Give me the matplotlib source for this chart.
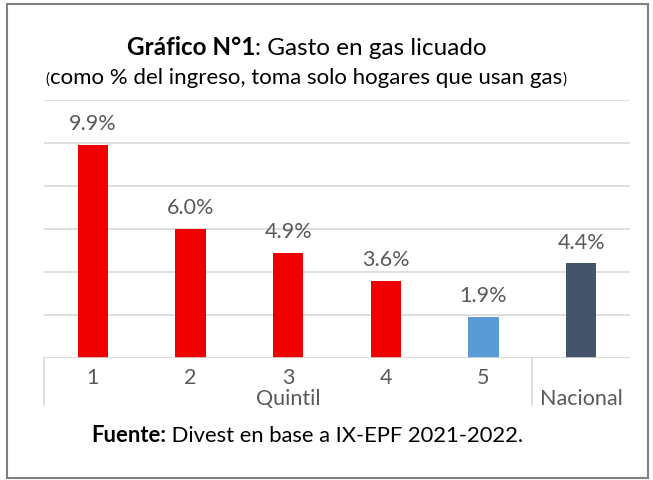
import matplotlib
matplotlib.use("Agg")
import matplotlib.pyplot as plt
from matplotlib.patches import Rectangle
from matplotlib.lines import Line2D
from matplotlib.transforms import blended_transform_factory

categories = ["1", "2", "3", "4", "5", "Nacional"]
values = [9.9, 6.0, 4.9, 3.6, 1.9, 4.4]
colors = ["#EE0000", "#EE0000", "#EE0000", "#EE0000", "#5B9BD5", "#44546A"]
group_label = "Quintil"
title_bold = "Gráfico N°1"
title_rest = ": Gasto en gas licuado"
subtitle = "como % del ingreso, toma solo hogares que usan gas"
foot_bold = "Fuente:"
foot_rest = " Divest en base a IX-EPF 2021-2022."

plt.rcParams['font.family'] = ['Lato', 'DejaVu Sans']
W, H = 653, 480
fig = plt.figure(figsize=(W / 100, H / 100), dpi=100)
fig.patch.set_facecolor("white")

def fx(px):
    return px / W

def fy(py):
    return 1 - py / H

left, right, top, base = 44, 630, 100, 358
ax = fig.add_axes([fx(left), fy(base), fx(right) - fx(left), (base - top) / H])
x = list(range(len(categories)))
ax.bar(x, values, width=0.31, color=colors, zorder=3)
ax.set_xlim(-0.5, len(categories) - 0.5)
ax.set_ylim(0, 12)
ax.set_yticks(range(0, 13, 2))
ax.yaxis.grid(True, color="#D9D9D9", lw=1.2, zorder=0)
ax.tick_params(left=False, labelleft=False, bottom=False, labelbottom=False)
for s in ax.spines.values():
    s.set_visible(False)
ax.axhline(0, color="#D9D9D9", lw=1.2, zorder=4)

lab_fs = 15.5
for xi, v in zip(x, values):
    ax.text(xi, v + 0.5, f"{v:.1f}%", ha="center", va="bottom", fontsize=lab_fs, color="#595959")

trans = blended_transform_factory(ax.transData, fig.transFigure)
for xi, c in zip(x[:-1], categories[:-1]):
    ax.text(xi, fy(378), c, transform=trans, ha="center", va="center", fontsize=lab_fs, color="#595959")
ax.text((x[0] + x[-2]) / 2, fy(399), group_label, transform=trans, ha="center", va="center",
        fontsize=lab_fs, color="#595959")
ax.text(x[-1], fy(399), categories[-1], transform=trans, ha="center", va="center",
        fontsize=lab_fs, color="#595959")
for xv in (-0.5, len(categories) - 1.5):
    fig.add_artist(Line2D([xv, xv], [fy(358), fy(405)], color="#D9D9D9", lw=1.2, transform=trans))

renderer = fig.canvas.get_renderer()

def mixed(parts, cx, cy):
    texts = []
    for s, kw in parts:
        t = fig.text(0, cy, s, va="baseline", ha="left", **kw)
        texts.append(t)
    widths = [t.get_window_extent(renderer).width for t in texts]
    total = sum(widths)
    start = cx * W - total / 2
    for t, w in zip(texts, widths):
        t.set_x(start / W)
        start += w

mixed([(title_bold, dict(fontsize=17.5, fontweight="bold", color="#000000")),
       (title_rest, dict(fontsize=17.5, color="#000000"))], fx(307), fy(55))
mixed([("(", dict(fontsize=11, color="#000000")),
       (subtitle, dict(fontsize=16, color="#000000")),
       (")", dict(fontsize=11, color="#000000"))], fx(306), fy(84))
mixed([(foot_bold, dict(fontsize=15.8, fontweight="bold", color="#000000")),
       (foot_rest, dict(fontsize=15.8, color="#000000"))], fx(307), fy(442))

fig.add_artist(Rectangle((fx(7), fy(478)), fx(648) - fx(7), fy(4) - fy(478),
                         transform=fig.transFigure, fill=False, edgecolor="#808080", lw=1.5))

fig.savefig("out.png", dpi=100)
